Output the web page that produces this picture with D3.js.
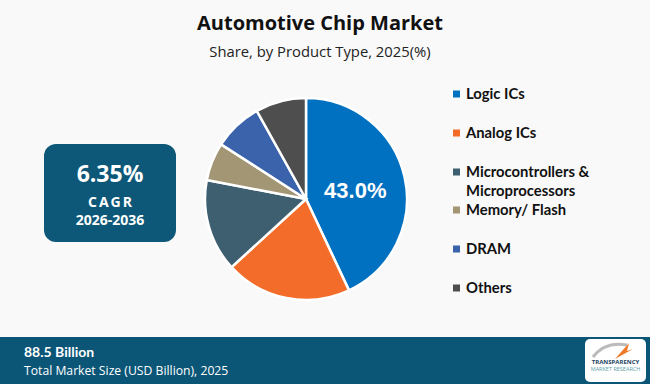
<!DOCTYPE html>
<meta charset="utf-8">
<style>
html, body { margin: 0; padding: 0; background: #f9f9f9; }
svg { display: block; font-family: "Open Sans", sans-serif; }
.legend text { font-family: Lato, sans-serif; font-weight: 700; font-size: 14.8px; fill: #111; }
</style>
<svg id="chart"></svg>
<script src="https://d3js.org/d3.v7.min.js"></script>
<script>

var width = 650;
var height = 384;

var categories = ['Logic ICs', 'Analog ICs', 'Microcontrollers & Microprocessors', 'Memory/ Flash', 'DRAM', 'Others'];
var legendLines = [['Logic ICs'], ['Analog ICs'], ['Microcontrollers &', 'Microprocessors'], ['Memory/ Flash'], ['DRAM'], ['Others']];
var shares = [43.0, 20.2, 14.8, 6.1, 7.8, 8.1];
var colors = ['#0070c0', '#f36c29', '#3d5f70', '#a29675', '#3a63ab', '#4e4e4e'];

var svg = d3.select('#chart')
  .attr('width', width)
  .attr('height', height);

// title
svg.append('text')
  .attr('x', 320).attr('y', 30)
  .attr('text-anchor', 'middle')
  .style('font-size', '20px').style('font-weight', 700).style('fill', '#111')
  .text('Automotive Chip Market');

svg.append('text')
  .attr('x', 320).attr('y', 57)
  .attr('text-anchor', 'middle')
  .style('font-size', '14.8px').style('fill', '#222')
  .text('Share, by Product Type, 2025(%)');

// pie
var cx = 306, cy = 199, r = 101;

var pie = d3.pie().sort(null).value(function (d) { return d; });
var arc = d3.arc().innerRadius(0).outerRadius(r);
var arcs = pie(shares);

var g = svg.append('g').attr('transform', 'translate(' + cx + ',' + cy + ')');

g.selectAll('path')
  .data(arcs)
  .enter().append('path')
  .attr('d', arc)
  .attr('fill', function (d, i) { return colors[i]; })
  .attr('stroke', '#fff')
  .attr('stroke-width', 2.5);

var labelArc = d3.arc().innerRadius(r * 0.5).outerRadius(r * 0.5);
g.append('text')
  .attr('transform', function () {
    var c = labelArc.centroid(arcs[0]);
    return 'translate(' + c[0] + ',' + (c[1] + 2) + ')';
  })
  .attr('text-anchor', 'middle')
  .attr('dy', '0.35em')
  .style('font-family', '"Liberation Sans", Arial, sans-serif')
  .style('font-size', '22px').style('font-weight', 700).style('fill', '#fff')
  .text(shares[0].toFixed(1) + '%');

// legend
var legendRowY = [94, 133, 172, 210, 249, 288];

var legend = svg.append('g').attr('class', 'legend')
  .selectAll('g')
  .data(categories)
  .enter().append('g')
  .attr('transform', function (d, i) { return 'translate(453,' + legendRowY[i] + ')'; });

legend.append('rect')
  .attr('x', 0).attr('y', -3.5)
  .attr('width', 7).attr('height', 7)
  .attr('fill', function (d, i) { return colors[i]; });

legend.each(function (d, i) {
  var t = d3.select(this).append('text')
    .attr('x', 13).attr('y', 0);
  legendLines[i].forEach(function (line, j) {
    t.append('tspan').attr('x', 13).attr('dy', j === 0 ? '0.36em' : '19px').text(line);
  });
});

// CAGR box
var box = svg.append('g');
box.append('rect')
  .attr('x', 44).attr('y', 144)
  .attr('width', 132).attr('height', 98)
  .attr('rx', 12)
  .attr('fill', '#0d5878');

box.append('text')
  .attr('x', 110).attr('y', 182)
  .attr('text-anchor', 'middle')
  .style('font-size', '23px').style('font-weight', 700).style('fill', '#fff')
  .text('6.35%');

box.append('text')
  .attr('x', 111).attr('y', 207)
  .attr('text-anchor', 'middle')
  .style('font-size', '14px').style('font-weight', 700).style('fill', '#fff')
  .style('letter-spacing', '2px')
  .text('CAGR');

box.append('text')
  .attr('x', 110).attr('y', 225)
  .attr('text-anchor', 'middle')
  .style('font-size', '14px').style('font-weight', 700).style('fill', '#fff')
  .text('2026-2036');

// bottom bar
svg.append('rect')
  .attr('x', 0).attr('y', 337)
  .attr('width', width).attr('height', height - 337)
  .attr('fill', '#0b5677');

svg.append('text')
  .attr('x', 24).attr('y', 357)
  .style('font-family', 'Lato, sans-serif')
  .style('font-size', '14px').style('font-weight', 700).style('fill', '#fff')
  .text('88.5 Billion');

svg.append('text')
  .attr('x', 24).attr('y', 375)
  .style('font-size', '12.2px').style('fill', '#fff')
  .text('Total Market Size (USD Billion), 2025');

// logo
var logo = svg.append('g').attr('transform', 'translate(585,339)');
logo.append('rect')
  .attr('width', 61).attr('height', 43).attr('rx', 5)
  .attr('fill', '#fff');
logo.append('path')
  .attr('d', 'M8,18 Q20,2 42,6')
  .attr('fill', 'none').attr('stroke', '#bbb').attr('stroke-width', 3);
logo.append('path')
  .attr('d', 'M30,20 L44,4 L42,12 L48,10 Z')
  .attr('fill', '#f07a2a');
logo.append('text')
  .attr('x', 30.5).attr('y', 25)
  .attr('text-anchor', 'middle')
  .style('font-size', '6px').style('font-weight', 700).style('fill', '#1d3f5e')
  .text('TRANSPARENCY');
logo.append('text')
  .attr('x', 30.5).attr('y', 32)
  .attr('text-anchor', 'middle')
  .style('font-size', '5.5px').style('fill', '#5a9fa8')
  .text('MARKET RESEARCH');

</script>
